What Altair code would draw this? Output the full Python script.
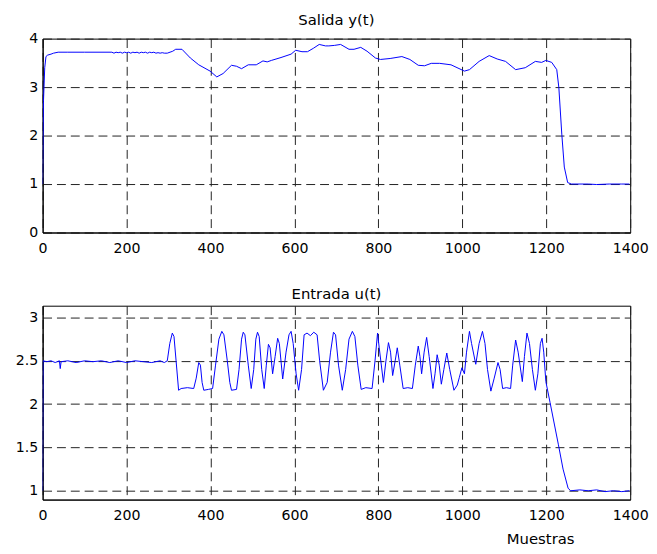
import altair as alt
import pandas as pd

# Salida y(t)
y_x = [0, 2, 5, 8, 12, 20, 26, 37, 60, 100, 165, 170, 175, 180, 185, 190, 195, 200, 205, 210,
       215, 220, 225, 230, 235, 240, 245, 250, 255, 260, 265, 270, 275, 280, 285, 290, 297, 310,
       317, 332, 352, 372, 399, 415, 430, 450, 462, 474, 490, 509, 525, 535, 545, 568, 592, 603,
       618, 631, 645, 659, 674, 682, 695, 710, 730, 742, 758, 773, 793, 805, 828, 856, 875, 895,
       910, 926, 946, 973, 1005, 1017, 1040, 1064, 1083, 1103, 1127, 1150, 1174, 1189, 1199, 1213,
       1225, 1230, 1237, 1243, 1251, 1260, 1300, 1320, 1350, 1380, 1398]
y_v = [1.00, 2.70, 3.40, 3.63, 3.66, 3.68, 3.70, 3.72, 3.72, 3.72, 3.72, 3.70, 3.72, 3.71, 3.72, 3.70,
       3.72, 3.71, 3.72, 3.70, 3.72, 3.71, 3.72, 3.70, 3.72, 3.71, 3.72, 3.70, 3.72, 3.71, 3.72, 3.70,
       3.71, 3.70, 3.71, 3.70, 3.70, 3.74, 3.78, 3.78, 3.60, 3.46, 3.33, 3.21, 3.28, 3.45, 3.43, 3.38,
       3.46, 3.46, 3.54, 3.52, 3.55, 3.61, 3.68, 3.76, 3.73, 3.73, 3.80, 3.88, 3.85, 3.85, 3.86, 3.88,
       3.78, 3.78, 3.82, 3.74, 3.60, 3.57, 3.59, 3.63, 3.57, 3.45, 3.44, 3.49, 3.49, 3.46, 3.33, 3.36,
       3.53, 3.65, 3.58, 3.53, 3.36, 3.40, 3.53, 3.51, 3.55, 3.51, 3.36, 2.99, 2.03, 1.35, 1.03, 1.00,
       1.00, 0.99, 1.00, 1.00, 1.00]

# Entrada u(t)
u_x = [0, 1, 10, 20, 30, 40, 42, 44, 60, 80, 100, 120, 140, 160, 180, 200, 220, 240, 260, 280, 290,
       297, 303, 309, 313, 318, 324, 330, 345, 360, 366, 372, 376, 380, 384, 395, 405, 412, 420, 427,
       432, 440, 446, 450, 462, 468, 474, 478, 482, 490, 497, 503, 508, 512, 516, 522, 528, 533, 538,
       542, 548, 554, 560, 564, 572, 580, 587, 592, 597, 604, 610, 617, 623, 630, 638, 646, 654, 660,
       669, 678, 686, 693, 698, 705, 714, 722, 730, 738, 744, 751, 759, 770, 785, 792, 798, 802, 812,
       818, 824, 829, 834, 840, 845, 851, 859, 870, 881, 888, 895, 899, 903, 909, 915, 921, 930, 935,
       940, 945, 950, 956, 963, 970, 980, 988, 993, 999, 1005, 1010, 1017, 1022, 1032, 1040, 1048,
       1054, 1060, 1068, 1076, 1085, 1090, 1096, 1105, 1115, 1120, 1127, 1133, 1143, 1148, 1154, 1160,
       1167, 1174, 1180, 1186, 1190, 1194, 1199, 1209, 1229, 1240, 1252, 1258, 1280, 1300, 1320, 1340,
       1360, 1380, 1398]
u_v = [1.00, 2.50, 2.49, 2.50, 2.48, 2.50, 2.41, 2.49, 2.50, 2.48, 2.50, 2.49, 2.50, 2.48, 2.50, 2.48,
       2.50, 2.49, 2.48, 2.50, 2.48, 2.50, 2.70, 2.82, 2.78, 2.50, 2.16, 2.18, 2.19, 2.18, 2.30, 2.48,
       2.45, 2.25, 2.16, 2.17, 2.18, 2.45, 2.75, 2.84, 2.80, 2.50, 2.25, 2.16, 2.17, 2.40, 2.75, 2.83,
       2.80, 2.45, 2.18, 2.40, 2.75, 2.83, 2.78, 2.40, 2.18, 2.45, 2.69, 2.65, 2.35, 2.55, 2.76, 2.70,
       2.29, 2.60, 2.80, 2.84, 2.70, 2.35, 2.16, 2.40, 2.80, 2.82, 2.79, 2.83, 2.80, 2.50, 2.16, 2.25,
       2.60, 2.83, 2.80, 2.45, 2.16, 2.40, 2.75, 2.84, 2.78, 2.45, 2.17, 2.19, 2.18, 2.50, 2.82, 2.65,
       2.25, 2.50, 2.71, 2.60, 2.33, 2.50, 2.65, 2.45, 2.18, 2.19, 2.18, 2.45, 2.67, 2.55, 2.35, 2.60,
       2.77, 2.55, 2.18, 2.35, 2.57, 2.45, 2.23, 2.40, 2.59, 2.40, 2.16, 2.22, 2.31, 2.42, 2.35, 2.60,
       2.84, 2.70, 2.46, 2.70, 2.84, 2.70, 2.40, 2.15, 2.30, 2.48, 2.40, 2.18, 2.19, 2.18, 2.45, 2.74,
       2.60, 2.26, 2.55, 2.82, 2.70, 2.40, 2.16, 2.35, 2.70, 2.76, 2.60, 2.26, 2.02, 1.53, 1.25, 1.03,
       1.00, 1.01, 1.00, 1.01, 0.99, 1.00, 0.99, 1.00]

x_ticks = [0, 200, 400, 600, 800, 1000, 1200, 1400]
y_ticks_top = [0, 1, 2, 3, 4]
y_ticks_bot = [1, 1.5, 2, 2.5, 3]

FONT = "DejaVu Sans"
LINE = "#0000ff"
GRID = "#222222"

df_y = pd.DataFrame({"n": y_x, "v": y_v})
df_u = pd.DataFrame({"n": u_x, "v": u_v})


def panel(df, title, ydom, yticks, xtitle):
    xaxis = alt.Axis(values=x_ticks, grid=True, gridDash=[9, 5], gridColor=GRID, gridOpacity=1,
                     ticks=False, labelPadding=9, domainColor="black", labelFontSize=14.3,
                     labelColor="black", labelFont=FONT, labelFlush=False,
                     labelExpr="'' + datum.value",
                     title=xtitle, titleFont=FONT, titleFontSize=15, titleFontWeight="normal",
                     titleColor="black", titleX=503, titleY=44, titleAlign="center",
                     titleBaseline="alphabetic")
    yaxis = alt.Axis(values=yticks, grid=True, gridDash=[9, 5], gridColor=GRID, gridOpacity=1,
                     ticks=False, labelPadding=5, domainColor="black", labelFontSize=14.3,
                     labelColor="black", labelFont=FONT, labelExpr="'' + datum.value",
                     minExtent=29, maxExtent=29, title="")
    return alt.Chart(df, title=alt.Title(title, font=FONT, fontSize=15, fontWeight="normal",
                                         color="black", anchor="middle", baseline="alphabetic",
                                         offset=-8)).mark_line(
        color=LINE, strokeWidth=1, clip=True
    ).encode(
        x=alt.X("n:Q", scale=alt.Scale(domain=[0, 1400], nice=False, zero=False), axis=xaxis),
        y=alt.Y("v:Q", scale=alt.Scale(domain=ydom, nice=False, zero=False), axis=yaxis),
    ).properties(width=594, height=196)


top = panel(df_y, "Salida y(t)", [0, 4], y_ticks_top, "")
bot = panel(df_u, "Entrada u(t)", [0.898, 3.136], y_ticks_bot, "Muestras")

chart = alt.vconcat(top, bot, spacing=74, bounds="flush").properties(
    padding={"left": 5, "top": 1, "right": 0, "bottom": 0}
).configure_view(stroke="black", strokeWidth=1)

chart.save("out.html", embed_options={"renderer": "svg", "actions": False})
